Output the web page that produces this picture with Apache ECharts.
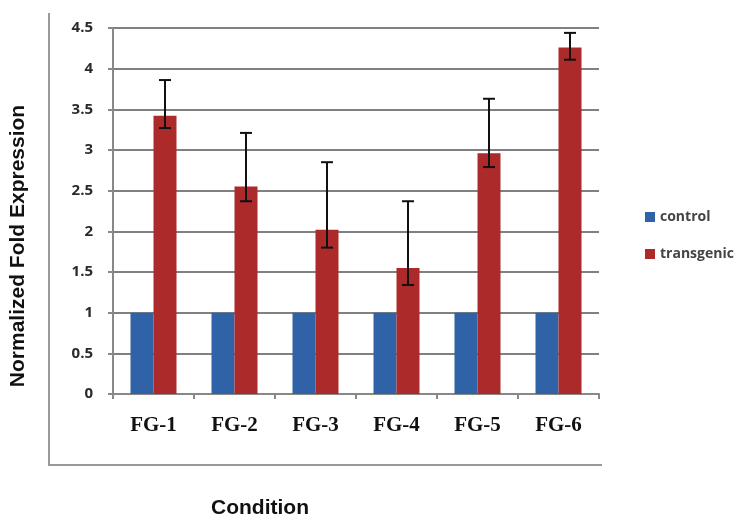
<!DOCTYPE html>
<html>
<head>
	<meta charset="utf-8">
	<title>Normalized Fold Expression</title>
	<script src="https://cdn.jsdelivr.net/npm/echarts@6/dist/echarts.min.js"></script>
	<style>
		html, body { margin:0; padding:0; background:#fff; }
		#box { width:756px; height:528px; }
	</style>
</head>
<body>
	<div id="box"></div>
</body>

<script type="text/javascript">
	var categories = ['FG-1', 'FG-2', 'FG-3', 'FG-4', 'FG-5', 'FG-6'];
	var control = [1, 1, 1, 1, 1, 1];
	var transgenic = [3.42, 2.55, 2.02, 1.55, 2.96, 4.26];
	var err_low = [3.27, 2.37, 1.80, 1.34, 2.79, 4.11];
	var err_high = [3.86, 3.21, 2.85, 2.37, 3.63, 4.44];
	var y_ticks = ['0', '0.5', '1', '1.5', '2', '2.5', '3', '3.5', '4', '4.5'];

	var bar_w = 23;

	//error bar data: [category index, low, high]
	var err_data = [];
	categories.forEach(function(c, i){
		err_data.push([i, err_low[i], err_high[i]]);
	});

	var chartDom = document.getElementById('box');
	var myChart = echarts.init(chartDom);

	var option = {
		animation: false,
		backgroundColor: '#fff',
		grid: { left: 113, right: 157, top: 28, bottom: 134 },
		legend: {
			orient: 'vertical',
			left: 640,
			top: 205,
			itemWidth: 10,
			itemHeight: 10,
			itemGap: 23,
			icon: 'rect',
			textStyle: { fontSize: 14, color: '#444', fontFamily: 'Open Sans', fontWeight: 'bold' },
			data: ['control', 'transgenic']
		},
		xAxis: {
			type: 'category',
			data: categories,
			axisLine: { lineStyle: { color: '#888', width: 2 } },
			axisTick: { show: true, length: 5, lineStyle: { color: '#888', width: 2 } },
			axisLabel: {
				margin: 21,
				color: '#111',
				fontSize: 21,
				fontWeight: 'bold',
				fontFamily: 'Liberation Serif'
			}
		},
		yAxis: {
			type: 'value',
			min: 0,
			max: 4.5,
			interval: 0.5,
			axisLine: { show: true, lineStyle: { color: '#888', width: 2 } },
			axisTick: { show: true, length: 5, lineStyle: { color: '#888', width: 2 } },
			splitLine: { lineStyle: { color: '#808080', width: 2 } },
			axisLabel: {
				margin: 20,
				color: '#2a2a2a',
				fontSize: 15,
				fontWeight: 'bold',
				fontFamily: 'Open Sans',
				formatter: function(v){
					return y_ticks[Math.round(v * 2)];
				}
			}
		},
		graphic: [
			{ type: 'line', shape: { x1: 49, y1: 13, x2: 49, y2: 465 }, style: { stroke: '#999', lineWidth: 2 } },
			{ type: 'line', shape: { x1: 48, y1: 465, x2: 602, y2: 465 }, style: { stroke: '#999', lineWidth: 2 } },
			{
				type: 'text', x: 18, y: 246, rotation: Math.PI / 2,
				style: {
					text: 'Normalized Fold Expression', fill: '#111',
					font: 'bold 21px "Liberation Sans", Arial', align: 'center', verticalAlign: 'middle'
				}
			},
			{
				type: 'text', x: 260, y: 508,
				style: {
					text: 'Condition', fill: '#111',
					font: 'bold 21px "Liberation Sans", Arial', align: 'center', verticalAlign: 'middle'
				}
			}
		],
		series: [
			{
				name: 'control',
				type: 'bar',
				data: control,
				barWidth: bar_w,
				barGap: '0%',
				itemStyle: { color: '#2f62a6' }
			},
			{
				name: 'transgenic',
				type: 'bar',
				data: transgenic,
				barWidth: bar_w,
				barGap: '0%',
				itemStyle: { color: '#ad2a2a' }
			},
			{
				name: 'error',
				type: 'custom',
				data: err_data,
				z: 10,
				renderItem: function(params, api){
					var idx = api.value(0);
					var lo = api.coord([idx, api.value(1)]);
					var hi = api.coord([idx, api.value(2)]);
					var x = lo[0] + bar_w / 2;
					var cap = 6;
					var st = { stroke: '#111', lineWidth: 2 };
					return {
						type: 'group',
						children: [
							{ type: 'line', shape: { x1: x, y1: lo[1], x2: x, y2: hi[1] }, style: st },
							{ type: 'line', shape: { x1: x - cap, y1: hi[1], x2: x + cap, y2: hi[1] }, style: st },
							{ type: 'line', shape: { x1: x - cap, y1: lo[1], x2: x + cap, y2: lo[1] }, style: st }
						]
					};
				}
			}
		]
	};
	myChart.setOption(option);
</script>
</html>
